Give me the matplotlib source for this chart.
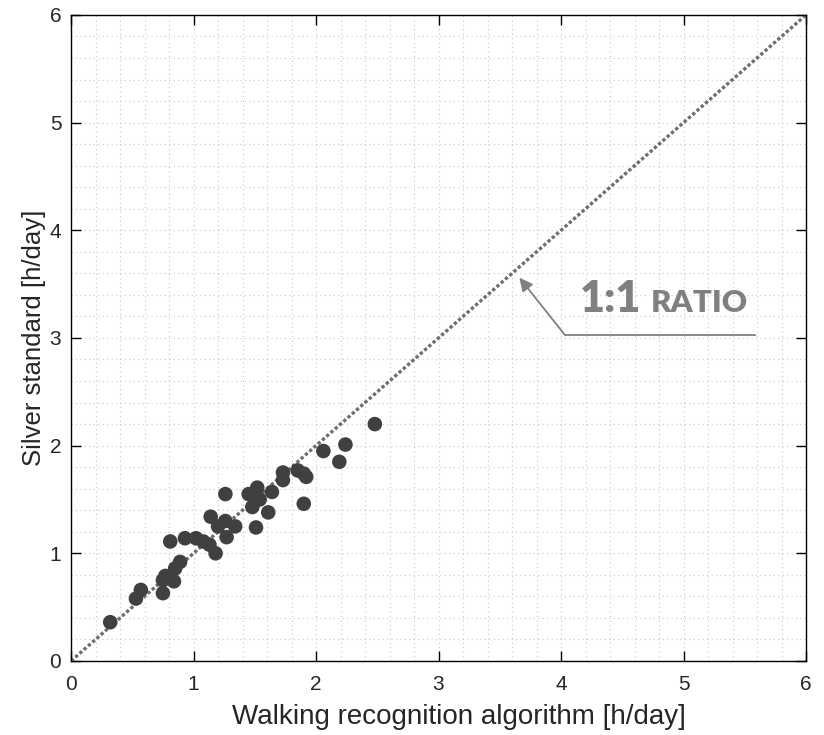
import numpy as np
import matplotlib.pyplot as plt
from matplotlib.ticker import MultipleLocator

# walking time per subject [h/day]
algo = [0.32, 0.53, 0.57, 0.75, 0.75, 0.77, 0.84, 0.85, 0.89, 0.81,
        0.93, 1.02, 1.08, 1.13, 1.18, 1.14, 1.20, 1.26, 1.26, 1.34,
        1.27, 1.45, 1.52, 1.54, 1.48, 1.64, 1.61, 1.51, 1.73, 1.73,
        1.85, 1.90, 1.92, 1.90, 2.06, 2.19, 2.24, 2.48]
silver = [0.36, 0.58, 0.66, 0.63, 0.75, 0.79, 0.74, 0.86, 0.92, 1.11,
          1.14, 1.14, 1.11, 1.08, 1.00, 1.34, 1.25, 1.30, 1.55, 1.25,
          1.15, 1.55, 1.61, 1.50, 1.43, 1.57, 1.38, 1.24, 1.75, 1.68,
          1.77, 1.74, 1.71, 1.46, 1.95, 1.85, 2.01, 2.20]

ref_line = [0, 6]
arrow_head = (3.66, 3.56)
arrow_elbow = (4.03, 3.03)
arrow_end_x = 5.58

plt.rcParams['font.family'] = ['Liberation Sans', 'DejaVu Sans']

fig = plt.figure(figsize=(8.24, 7.35), dpi=100)
ax = fig.add_axes([0.0862, 0.1007, 0.892, 0.879])

ax.plot(ref_line, ref_line, linestyle=(0, (1, 0.7)), color='#6e6e6e', lw=2.4, zorder=2)
ax.scatter(algo, silver, s=110, color='#404040', edgecolors='none', zorder=3)

# 1:1 ratio callout
ax.plot([arrow_elbow[0], arrow_end_x], [arrow_elbow[1], arrow_elbow[1]], color='#808080', lw=1.3)
ax.annotate('', xy=arrow_head, xytext=arrow_elbow,
            arrowprops=dict(arrowstyle='-|>', color='#808080', lw=1.3,
                            mutation_scale=20, shrinkA=0, shrinkB=0))
ax.text(4.15, 3.24, '1:1', fontsize=31, fontweight='heavy', color='#808080',
        family='Lato', ha='left', va='baseline')
ax.text(4.73, 3.24, 'RATIO', fontsize=22.5, fontweight='heavy', color='#808080',
        family='Lato', ha='left', va='baseline')

ax.set_xlim(0, 6)
ax.set_ylim(0, 6)
ax.xaxis.set_major_locator(MultipleLocator(1))
ax.yaxis.set_major_locator(MultipleLocator(1))
ax.xaxis.set_minor_locator(MultipleLocator(0.2))
ax.yaxis.set_minor_locator(MultipleLocator(0.2))
ax.grid(which='both', linestyle=(0, (1, 3)), color='#c8c8c8', lw=0.8)
ax.set_axisbelow(True)
ax.tick_params(which='major', direction='in', length=7, width=1, top=True, right=True,
               labelsize=15, labelcolor='#262626')
ax.tick_params(axis='x', pad=10)
ax.tick_params(axis='y', pad=7)
ax.tick_params(which='minor', length=0)
for sp in ax.spines.values():
    sp.set_linewidth(1)

ax.set_xlabel('Walking recognition algorithm [h/day]', fontsize=20, color='#262626')
ax.set_ylabel('Silver standard [h/day]', fontsize=18.5, color='#262626')
ax.xaxis.set_label_coords(0.528, -0.067)
ax.yaxis.set_label_coords(-0.034, 0.5)

fig.savefig('out.png', dpi=100)
